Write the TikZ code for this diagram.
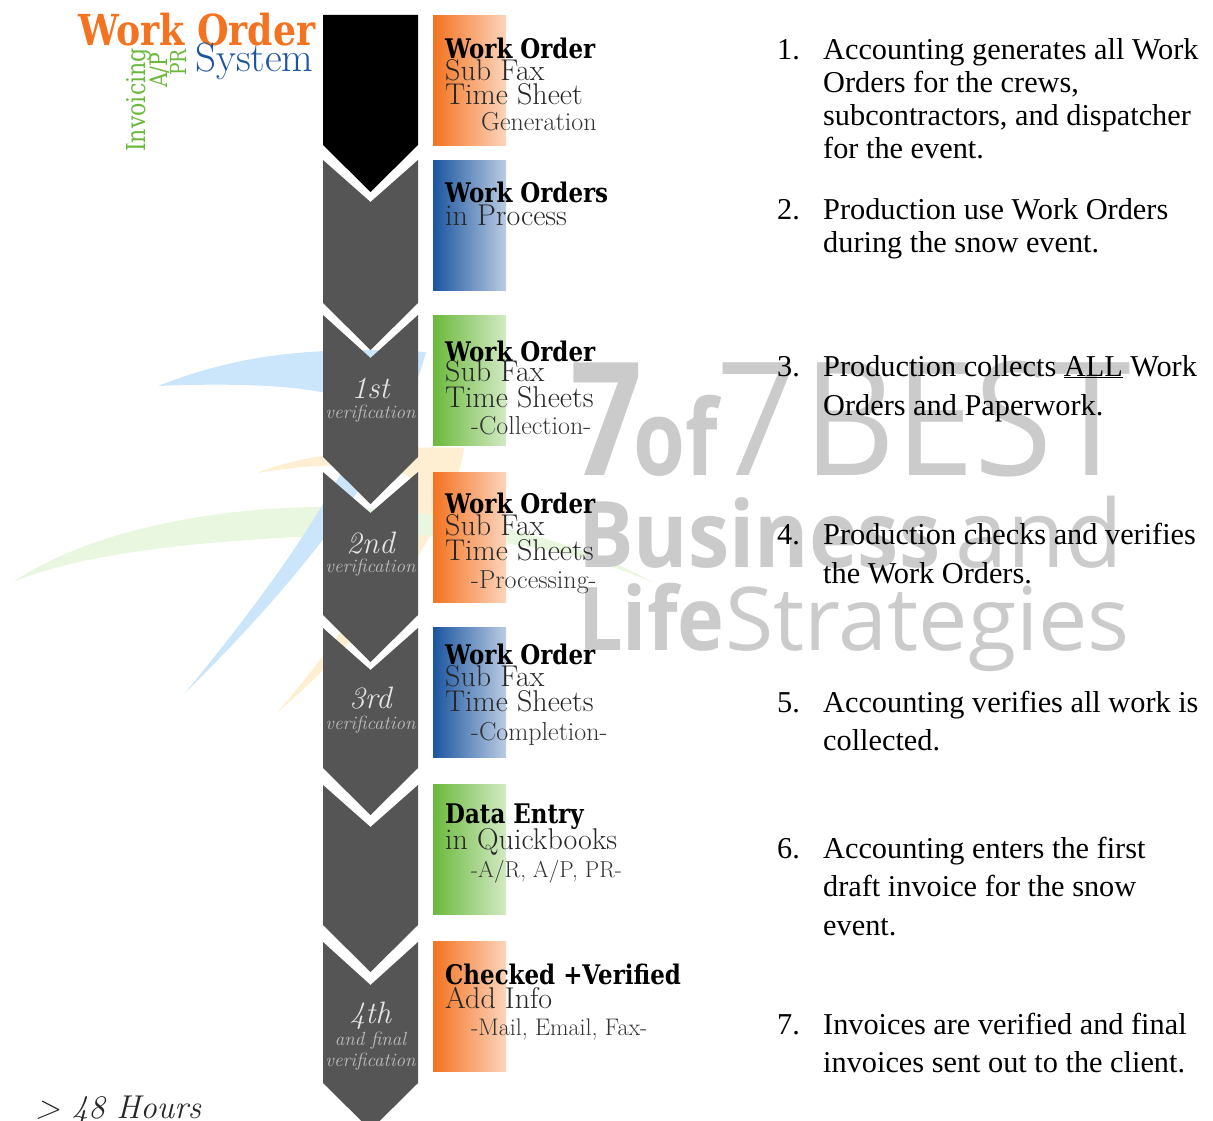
\documentclass[tikz,border=0pt]{standalone}
\usepackage{fontspec}
\newfontfamily\slabfont[FakeStretch=0.85]{DejaVu Serif}
\newfontfamily\markfont[FakeStretch=0.8]{Open Sans}
\newfontfamily\markmid[FakeStretch=0.9]{Open Sans}
\newfontfamily\markwide{Open Sans}
\newfontfamily\listfont{Liberation Serif}
\newcommand{\fsize}[1]{\fontsize{#1}{#1}\selectfont}
\definecolor{wo orange}{HTML}{F37321}
\definecolor{wo blue}{HTML}{1B55A0}
\definecolor{wo green}{HTML}{6BB93C}
\definecolor{arrow gray}{HTML}{555555}
\definecolor{mark gray}{HTML}{CBCBCB}
\definecolor{swoosh yellow}{HTML}{FFEFD2}
\definecolor{swoosh green}{HTML}{EAF7E0}
\definecolor{swoosh blue}{HTML}{CBE5FB}
\begin{document}
\begin{tikzpicture}[x=1pt,y=-1pt]

      \useasboundingbox (0,0) rectangle (1213,1121);
      \clip (0,0) rectangle (1213,1121);

      % logo behind everything
      \fill[swoosh yellow] (257,473) .. controls (300,455) and (380,445) .. (464,448)
        .. controls (450,540) and (350,650) .. (277,713)
        .. controls (330,650) and (400,560) .. (415,490)
        .. controls (420,465) and (350,458) .. (257,473);
      \fill[swoosh green] (13,582) .. controls (90,530) and (220,505) .. (340,507)
        .. controls (430,510) and (560,530) .. (654,583)
        .. controls (570,545) and (440,530) .. (340,535)
        .. controls (220,540) and (90,550) .. (13,582);
      \fill[swoosh blue] (158,386) .. controls (230,358) and (300,345) .. (426,352)
        .. controls (400,450) and (310,570) .. (185,693)
        .. controls (270,590) and (340,490) .. (365,420)
        .. controls (372,395) and (300,380) .. (158,386);

      \begin{scope}[every node/.style={anchor=base west,text=mark gray,inner sep=0pt}]
        \node (mark1) at (570,475) {\markfont\fsize{158}\bfseries 7};
        \node (mark2) at (633,475) {\markfont\fsize{105}\bfseries of};
        \node (mark3) at (716,475) {\markmid\fsize{158}7};
        \node (mark4) at (803,475) {\markmid\fsize{158}BEST};
        \node (mark5) at (578,567) {\markmid\fsize{92}\bfseries Business};
        \node (mark6) at (955,567) {\markwide\fsize{94}and};
        \node (mark7) at (578,650) {\markmid\fsize{88}\bfseries Life};
        \node (mark8) at (725,650) {\markwide\fsize{88}Strategies};
      \end{scope}

      % arrows
      \fill[black] (323,15) -- (418,15) -- (418,145) -- (370.5,192) -- (323,145) -- cycle;
      \foreach \ytop/\ynotch/\ylow in {160/202/303,315/358/457,472/513/615,628/670/768,785/827/925,942/985/1083}
        \fill[arrow gray] (323,\ytop) -- (370.5,\ynotch) -- (418,\ytop) -- (418,\ylow)
          -- (370.5,\ylow+47) -- (323,\ylow) -- cycle;

      % colour bars
      \begin{scope}[every node/.style={minimum width=73pt,minimum height=130pt,inner sep=0pt,anchor=north west}]
        \node[left color=wo orange,right color=wo orange!30] (bar1) at (433,15)  {};
        \node[left color=wo blue,right color=wo blue!30]     (bar2) at (433,160) {};
        \node[left color=wo green,right color=wo green!30]   (bar3) at (433,315) {};
        \node[left color=wo orange,right color=wo orange!30] (bar4) at (433,472) {};
        \node[left color=wo blue,right color=wo blue!30]     (bar5) at (433,627) {};
        \node[left color=wo green,right color=wo green!30]   (bar6) at (433,784) {};
        \node[left color=wo orange,right color=wo orange!30] (bar7) at (433,941) {};
      \end{scope}

      \begin{scope}[every node/.style={anchor=base west,inner sep=0pt,font=\slabfont\fsize{27}\bfseries}]
        \node (title1) at (445,59)  {Work Order};
        \node (title2) at (445,202) {Work Orders};
        \node (title3) at (445,361) {Work Order};
        \node (title4) at (445,513) {Work Order};
        \node (title5) at (445,664) {Work Order};
        \node (title6) at (445,823) {Data Entry};
        \node (title7) at (445,984) {Checked +Verified};
      \end{scope}

      \begin{scope}[every node/.style={anchor=base west,inner sep=0pt,text=black!85,font=\fsize{30}}]
        \node (sub1)  at (445,81)   {Sub Fax};
        \node (time1) at (445,105)  {Time Sheet};
        \node (sub2)  at (445,225)  {in Process};
        \node (sub3)  at (445,381)  {Sub Fax};
        \node (time3) at (445,407)  {Time Sheets};
        \node (sub4)  at (445,535)  {Sub Fax};
        \node (time4) at (445,560)  {Time Sheets};
        \node (sub5)  at (445,686)  {Sub Fax};
        \node (time5) at (445,711)  {Time Sheets};
        \node (sub6)  at (445,849)  {in Quickbooks};
        \node (sub7)  at (445,1008) {Add Info};
      \end{scope}

      \begin{scope}[every node/.style={anchor=base west,inner sep=0pt,text=black!80,font=\fsize{26}}]
        \node (note1) at (481,131)  {Generation};
        \node (note3) at (471,434)  {-Collection-};
        \node (note4) at (471,588)  {-Processing-};
        \node (note5) at (471,740)  {-Completion-};
        \node[font=\fsize{23}] (note6) at (471,877)  {-A/R, A/P, PR-};
        \node[font=\fsize{24}] (note7) at (471,1035) {-Mail, Email, Fax-};
      \end{scope}

      % labels on the arrows
      \begin{scope}[every node/.style={anchor=base,inner sep=0pt,text=black!10,font=\itshape\fsize{31}}]
        \node (check1) at (370.5,398)  {1st};
        \node (check2) at (370.5,553)  {2nd};
        \node (check3) at (370.5,708)  {3rd};
        \node (check4) at (370.5,1023) {4th};
      \end{scope}
      \begin{scope}[every node/.style={anchor=base,inner sep=0pt,text=black!25,font=\itshape\fsize{19}}]
        \node (verif1) at (370.5,418)  {verification};
        \node (verif2) at (370.5,572)  {verification};
        \node (verif3) at (370.5,729)  {verification};
        \node (final4) at (370.5,1045) {and final};
        \node (verif4) at (370.5,1066) {verification};
      \end{scope}

      \node[anchor=base west,inner sep=0pt,text=black!85,font=\itshape\fsize{33}] (hours) at (35,1118) {> 48 Hours};

      % logo text
      \node[anchor=base west,inner sep=0pt,text=wo orange,font=\slabfont\fsize{42.7}\bfseries] (logo1) at (78,46) {Work Order};
      \node[anchor=base west,inner sep=0pt,text=wo blue,font=\fsize{41}] (logo2) at (195,72) {System};
      \begin{scope}[every node/.style={anchor=base west,inner sep=0pt,rotate=90,text=wo green}]
        \node[font=\slabfont\fsize{26}] (logo3) at (145,152) {Invoicing};
        \node[font=\slabfont\fsize{24}] (logo4) at (167,88)  {A/P};
        \node[font=\slabfont\fsize{22}] (logo5) at (186,76)  {PR};
      \end{scope}

      % numbered list
      \begin{scope}[yshift=-1pt,every node/.style={anchor=base west,inner sep=0pt,font=\listfont\fsize{30.3}}]
        \node (num1) at (777,59)   {1.};
        \node (line1a) at (823,59)  {Accounting generates all Work};
        \node (line1b) at (823,92)  {Orders for the crews,};
        \node (line1c) at (823,125) {subcontractors, and dispatcher};
        \node (line1d) at (823,158) {for the event.};
        \node (num2) at (777,218)  {2.};
        \node (line2a) at (823,218) {Production use Work Orders};
        \node (line2b) at (823,251) {during the snow event.};
        \node (num3) at (777,375)  {3.};
        \node (line3a) at (823,375) {Production collects \underline{ALL} Work};
        \node (line3b) at (823,414) {Orders and Paperwork.};
        \node (num4) at (777,543)  {4.};
        \node (line4a) at (823,543) {Production checks and verifies};
        \node (line4b) at (823,582) {the Work Orders.};
        \node (num5) at (777,711)  {5.};
        \node (line5a) at (823,711) {Accounting verifies all work is};
        \node (line5b) at (823,749) {collected.};
        \node (num6) at (777,857)  {6.};
        \node (line6a) at (823,857) {Accounting enters the first};
        \node (line6b) at (823,895) {draft invoice for the snow};
        \node (line6c) at (823,934) {event.};
        \node (num7) at (777,1033) {7.};
        \node (line7a) at (823,1033) {Invoices are verified and final};
        \node (line7b) at (823,1071) {invoices sent out to the client.};
      \end{scope}

    \end{tikzpicture}
\end{document}
